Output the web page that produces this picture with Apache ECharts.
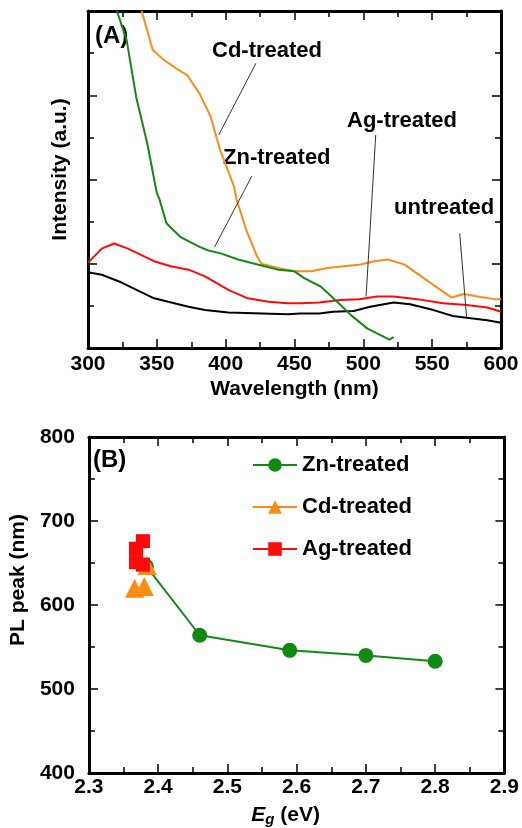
<!DOCTYPE html>
<html>
<head>
<meta charset="utf-8">
<title>Absorption and PL peak</title>
<script src="https://cdn.jsdelivr.net/npm/echarts@6/dist/echarts.min.js"></script>
<style>
html, body { margin: 0; padding: 0; background: #fff; }
#chart { width: 522px; height: 828px; }
</style>
</head>
<body>
<div id="chart"></div>
<script>
// (A) spectra: wavelength (nm) / intensity (a.u.)
const untreatedWl = [300, 310, 324, 348, 373, 385, 402, 445, 454, 468, 478, 493, 505, 522, 534, 551, 565, 575, 590, 600]
const untreatedI = [0.90, 0.87, 0.78, 0.59, 0.49, 0.45, 0.42, 0.40, 0.41, 0.41, 0.43, 0.44, 0.49, 0.54, 0.52, 0.45, 0.38, 0.36, 0.33, 0.30]
const agWl = [300, 310, 319, 329, 348, 360, 373, 385, 402, 416, 431, 445, 454, 468, 483, 497, 510, 522, 539, 558, 575, 590, 600]
const agI = [1.01, 1.18, 1.24, 1.18, 1.03, 0.97, 0.93, 0.85, 0.69, 0.59, 0.55, 0.53, 0.53, 0.54, 0.57, 0.58, 0.61, 0.61, 0.58, 0.53, 0.51, 0.48, 0.43]
const cdWl = [339, 347, 355, 364, 372, 381, 389, 396, 406, 408, 415, 423, 426, 438, 450, 462, 474, 486, 498, 508, 518, 530, 542, 556, 564, 573, 583, 595, 600]
const cdI = [4.0, 3.54, 3.42, 3.32, 3.24, 3.02, 2.75, 2.35, 1.92, 1.76, 1.40, 1.08, 1.00, 0.95, 0.91, 0.91, 0.95, 0.97, 0.99, 1.03, 1.05, 0.99, 0.85, 0.69, 0.60, 0.64, 0.61, 0.58, 0.58]
const znWl = [321, 328, 335, 343, 350, 352, 357, 367, 381, 387, 397, 409, 426, 438, 450, 457, 469, 481, 491, 503, 519, 522]
const znI = [4.0, 3.66, 2.98, 2.43, 1.84, 1.76, 1.48, 1.32, 1.20, 1.16, 1.12, 1.05, 0.98, 0.93, 0.91, 0.83, 0.73, 0.55, 0.39, 0.23, 0.10, 0.13]

// leader lines from labels to curves (data coords)
const leaderFrom = [[422, 3.38], [419, 2.04], [509, 2.53], [570, 1.36]]
const leaderTo = [[395, 2.53], [392, 1.20], [502, 0.61], [575, 0.37]]

// (B) PL peak (nm) vs Eg (eV)
const znEg = [2.383, 2.46, 2.59, 2.70, 2.80]
const znPL = [646, 564, 546, 540, 533]
const cdEg = [2.366, 2.380, 2.384]
const cdPL = [620, 622, 647]
const agEg = [2.378, 2.368, 2.368, 2.378]
const agPL = [676, 667, 651, 648]

const FONT = 'Liberation Sans, Arial, sans-serif'
const GREEN = '#128a12'
const ORANGE = '#ff8a14'
const RED = '#ff0a0a'

const pairs = (xs, ys) => xs.map((x, i) => [x, ys[i]])

function axis (grid, position, min, max, interval, withLabel) {
  return {
    gridIndex: grid,
    type: 'value',
    position: position,
    min: min,
    max: max,
    interval: interval,
    axisLine: { show: true, onZero: false, lineStyle: { color: '#000', width: 3 } },
    axisTick: { show: true, inside: true, length: 9, lineStyle: { color: '#000', width: 1.5 } },
    minorTick: { show: true, splitNumber: 2, length: 6, lineStyle: { color: '#000', width: 1.5 } },
    splitLine: { show: false },
    axisLabel: {
      show: withLabel,
      color: '#000',
      fontSize: 21,
      fontWeight: 'bold',
      fontFamily: FONT
    }
  }
}

const nameStyle = { color: '#000', fontSize: 21, fontWeight: 'bold', fontFamily: FONT }

// panel A axes
const xA = axis(0, 'bottom', 300, 600, 50, true)
xA.axisLabel.margin = 6
xA.name = 'Wavelength (nm)'
xA.nameLocation = 'middle'
xA.nameGap = 31
xA.nameTextStyle = nameStyle
const xAtop = axis(0, 'top', 300, 600, 50, false)
const yA = axis(0, 'left', 0, 4, 1, false)
yA.name = 'Intensity (a.u.)'
yA.nameLocation = 'middle'
yA.nameGap = 17
yA.nameTextStyle = Object.assign({ padding: [0, 0, 0, 20] }, nameStyle)
const yAright = axis(0, 'right', 0, 4, 1, false)

// panel B axes
const xB = axis(1, 'bottom', 2.3, 2.9, 0.1, true)
xB.axisLabel.margin = 4
xB.axisLabel.formatter = v => v.toFixed(1)
xB.name = '{e|E}{g|g} (eV)'
xB.nameLocation = 'middle'
xB.nameGap = 31
xB.nameTextStyle = Object.assign({
  padding: [0, 22, 0, 0],
  rich: {
    e: { fontSize: 21, fontWeight: 'bold', fontStyle: 'italic', fontFamily: FONT, color: '#000' },
    g: { fontSize: 15, fontWeight: 'bold', fontStyle: 'italic', fontFamily: FONT, color: '#000', padding: [8, 0, 0, 0] }
  }
}, nameStyle)
const xBtop = axis(1, 'top', 2.3, 2.9, 0.1, false)
const yB = axis(1, 'left', 400, 800, 100, true)
yB.axisLabel.margin = 14
yB.name = 'PL peak (nm)'
yB.nameLocation = 'middle'
yB.nameGap = 50
yB.nameTextStyle = Object.assign({ padding: [0, 0, 0, 50] }, nameStyle)
const yBright = axis(1, 'right', 400, 800, 100, false)

const labelStyle = { fill: '#000', font: 'bold 22px ' + FONT, textVerticalAlign: 'middle' }
const label = (text, x, y, size) => ({
  type: 'text',
  left: x,
  top: y,
  style: Object.assign({}, labelStyle, { text: text, font: 'bold ' + (size || 22) + 'px ' + FONT })
})

const option = {
  animation: false,
  backgroundColor: '#fff',
  grid: [
    { left: 88, top: 11, width: 413, height: 337 },
    { left: 88, top: 437, width: 419, height: 336 }
  ],
  xAxis: [xA, xAtop, xB, xBtop],
  yAxis: [yA, yAright, yB, yBright],
  legend: {
    orient: 'vertical',
    left: 247,
    top: 449,
    itemWidth: 44,
    itemHeight: 17,
    itemGap: 20,
    textStyle: { color: '#000', fontSize: 22, fontWeight: 'bold', fontFamily: FONT },
    data: [
      { name: 'Zn-treated' },
      { name: 'Cd-treated', lineStyle: { width: 2, color: ORANGE, opacity: 1 } },
      { name: 'Ag-treated', lineStyle: { width: 2, color: RED, opacity: 1 } }
    ]
  },
  graphic: [
    label('(A)', 95, 24, 24),
    label('Cd-treated', 212, 40),
    label('Zn-treated', 223, 147),
    label('Ag-treated', 347, 110),
    label('untreated', 394, 197),
    label('(B)', 93, 448, 24)
  ],
  series: [
    {
      name: 'untreated',
      type: 'line',
      xAxisIndex: 0,
      yAxisIndex: 0,
      data: pairs(untreatedWl, untreatedI),
      symbol: 'none',
      lineStyle: { color: '#000', width: 2 },
      markLine: {
        silent: true,
        symbol: ['none', 'none'],
        label: { show: false },
        lineStyle: { color: '#333', width: 1, type: 'solid' },
        data: leaderFrom.map((p, i) => [{ coord: p }, { coord: leaderTo[i] }])
      }
    },
    {
      name: 'Ag-spec',
      type: 'line',
      xAxisIndex: 0,
      yAxisIndex: 0,
      data: pairs(agWl, agI),
      symbol: 'none',
      lineStyle: { color: RED, width: 2 }
    },
    {
      name: 'Cd-spec',
      type: 'line',
      xAxisIndex: 0,
      yAxisIndex: 0,
      data: pairs(cdWl, cdI),
      symbol: 'none',
      lineStyle: { color: ORANGE, width: 2 }
    },
    {
      name: 'Zn-spec',
      type: 'line',
      xAxisIndex: 0,
      yAxisIndex: 0,
      data: pairs(znWl, znI),
      symbol: 'none',
      lineStyle: { color: GREEN, width: 2 }
    },
    {
      name: 'Zn-treated',
      type: 'line',
      xAxisIndex: 2,
      yAxisIndex: 2,
      data: pairs(znEg, znPL),
      symbol: 'circle',
      symbolSize: 15,
      itemStyle: { color: GREEN },
      lineStyle: { color: GREEN, width: 2 }
    },
    {
      name: 'Cd-treated',
      type: 'line',
      xAxisIndex: 2,
      yAxisIndex: 2,
      data: pairs(cdEg, cdPL),
      symbol: 'triangle',
      symbolSize: 19,
      itemStyle: { color: ORANGE },
      lineStyle: { color: ORANGE, width: 0, opacity: 0 }
    },
    {
      name: 'Ag-treated',
      type: 'line',
      xAxisIndex: 2,
      yAxisIndex: 2,
      data: pairs(agEg, agPL),
      symbol: 'rect',
      symbolSize: 14,
      itemStyle: { color: RED },
      lineStyle: { color: RED, width: 0, opacity: 0 }
    }
  ]
}

const myChart = echarts.init(document.getElementById('chart'))
myChart.setOption(option)
</script>
</body>
</html>
